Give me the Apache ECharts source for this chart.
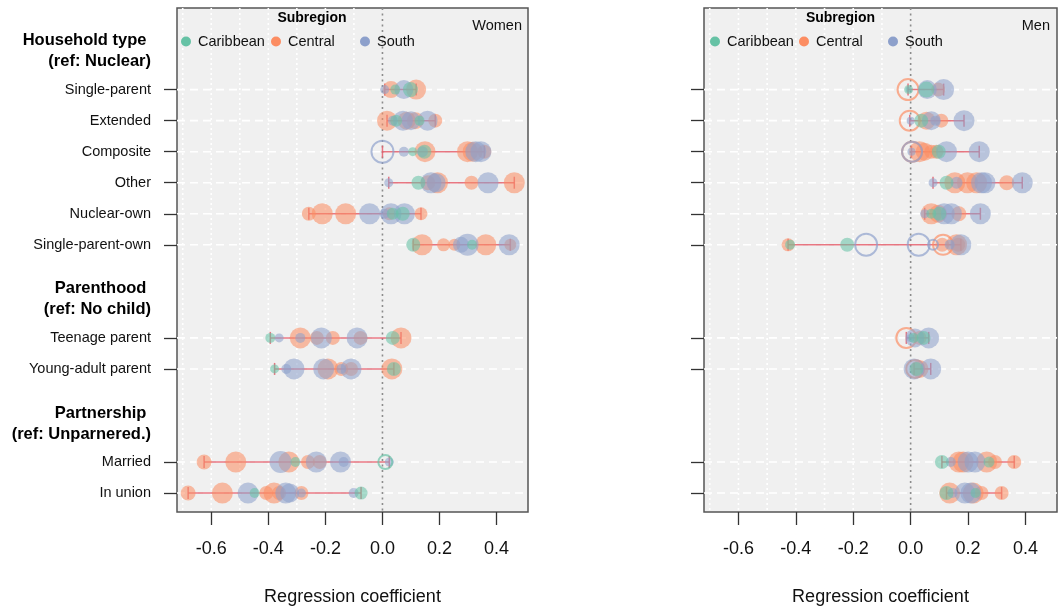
<!DOCTYPE html>
<html><head><meta charset="utf-8">
<script src="https://cdn.jsdelivr.net/npm/echarts@6/dist/echarts.min.js"></script>
<style>html,body{margin:0;padding:0;background:#fff}#c{width:1058px;height:611px}</style>
</head><body><div id="c"></div>
<script>
// ---------- data ----------
const rowLabels = ['Single-parent','Extended','Composite','Other','Nuclear-own','Single-parent-own','Teenage parent','Young-adult parent','Married','In union'];
const rowPositions = [0,1,2,3,4,5,8,9,12,13];
const groupHeaders = [['Household type ','(ref: Nuclear)'],['Parenthood ','(ref: No child)'],['Partnership ','(ref: Unparnered.)']];
const headerPositions = [-1.245, 6.75, 10.77];
const xTicks = [-0.6,-0.4,-0.2,0,0.2,0.4];
const xGridValues = [-0.7,-0.6,-0.5,-0.4,-0.3,-0.2,-0.1];
const subregions = ['Caribbean','Central','South'];
const panelTitles = ['Women','Men'];
// each point: [coefficient, row position, symbol diameter, filled(1)/hollow(0)]
const womenCaribbean = [[0.045,0,10,1],[0.098,0,15,1],[0.048,1,12,1],[0.13,1,10,1],[0.106,2,9,1],[0.147,2,14,1],[0.126,3,14,1],[0.036,4,12,1],[0.071,4,14,1],[0.108,5,14,1],[0.314,5,10,1],[-0.393,8,10,1],[0.036,8,14,1],[-0.378,9,9,1],[0.04,9,14,1],[-0.305,12,10,1],[0.01,12,14,0],[-0.448,13,10,1],[-0.075,13,13,1]];
const womenCentral = [[0.03,0,17,1],[0.118,0,20,1],[0.016,1,20,1],[0.085,1,18,1],[0.115,1,17,1],[0.185,1,14,1],[0.149,2,21,1],[0.298,2,21,1],[0.316,2,20,1],[0.357,2,14,1],[0.159,3,15,1],[0.193,3,21,1],[0.312,3,14,1],[0.462,3,21,1],[-0.258,4,14,1],[-0.211,4,21,1],[-0.129,4,21,1],[0.024,4,13,1],[0.135,4,13,1],[0.139,5,21,1],[0.214,5,13,1],[0.252,5,12,1],[0.362,5,21,1],[0.448,5,12,1],[-0.288,8,21,1],[-0.23,8,14,1],[-0.174,8,14,1],[-0.077,8,14,1],[0.065,8,21,1],[-0.191,9,21,1],[-0.144,9,14,1],[-0.11,9,14,1],[0.033,9,21,1],[-0.625,12,15,1],[-0.514,12,21,1],[-0.328,12,21,1],[-0.261,12,14,1],[-0.22,12,14,1],[-0.681,13,15,1],[-0.561,13,21,1],[-0.407,13,14,1],[-0.38,13,21,1],[-0.362,13,14,1],[-0.284,13,14,1]];
const womenSouth = [[0.008,0,9,1],[0.075,0,19,1],[0.037,1,10,1],[0.072,1,20,1],[0.1,1,19,1],[0.158,1,20,1],[0.0,2,22,0],[0.075,2,10,1],[0.14,2,11,1],[0.327,2,21,1],[0.345,2,21,1],[0.022,3,9,1],[0.17,3,21,1],[0.188,3,19,1],[0.37,3,21,1],[-0.045,4,21,1],[0.007,4,10,1],[0.03,4,21,1],[0.077,4,21,1],[0.275,5,16,1],[0.298,5,22,1],[0.444,5,21,1],[-0.362,8,9,1],[-0.288,8,10,1],[-0.214,8,21,1],[-0.089,8,21,1],[-0.337,9,10,1],[-0.31,9,21,1],[-0.206,9,21,1],[-0.144,9,10,1],[-0.11,9,21,1],[-0.357,12,22,1],[-0.232,12,21,1],[-0.147,12,21,1],[-0.136,12,10,1],[0.024,12,9,1],[-0.471,13,21,1],[-0.339,13,21,1],[-0.325,13,19,1],[-0.284,13,9,1],[-0.101,13,10,1]];
const menCaribbean = [[-0.007,0,9,1],[0.055,0,16,1],[0.037,1,14,1],[0.098,2,14,1],[0.125,3,14,1],[0.072,4,10,1],[0.1,4,14,1],[-0.42,5,10,1],[-0.221,5,14,1],[0.01,8,10,1],[0.045,8,14,1],[0.02,9,14,1],[0.109,12,14,1],[0.273,12,11,1],[0.125,13,14,1],[0.226,13,10,1]];
const menCentral = [[-0.009,0,21,0],[0.096,0,14,1],[-0.003,1,20,0],[0.055,1,18,1],[0.107,1,14,1],[0.005,2,20,0],[0.031,2,21,1],[0.049,2,18,1],[0.072,2,14,1],[0.09,2,14,1],[0.154,3,21,1],[0.198,3,21,1],[0.23,3,21,1],[0.335,3,15,1],[0.072,4,21,1],[0.096,4,18,1],[0.168,4,15,1],[-0.427,5,13,1],[0.113,5,20,0],[0.11,5,14,1],[0.16,5,21,1],[0.166,5,14,1],[-0.015,8,20,0],[0.031,8,14,1],[0.016,9,18,0],[0.031,9,18,1],[0.168,12,21,1],[0.183,12,21,1],[0.265,12,21,1],[0.294,12,14,1],[0.361,12,14,1],[0.136,13,21,1],[0.218,13,21,1],[0.247,13,14,1],[0.317,13,14,1]];
const menSouth = [[-0.007,0,6,1],[0.058,0,19,1],[0.115,0,21,1],[0.0,1,8,1],[0.072,1,19,1],[0.086,1,10,1],[0.186,1,21,1],[0.005,2,20,0],[0.003,2,8,1],[0.125,2,21,1],[0.239,2,21,1],[0.078,3,9,1],[0.16,3,12,1],[0.247,3,21,1],[0.259,3,21,1],[0.389,3,21,1],[0.049,4,9,1],[0.117,4,21,1],[0.142,4,21,1],[0.243,4,21,1],[-0.155,5,22,0],[0.028,5,22,0],[0.078,5,10,0],[0.136,5,10,1],[0.175,5,21,1],[0.0,8,8,1],[0.015,8,19,1],[0.063,8,21,1],[0.012,9,21,1],[0.07,9,21,1],[0.14,12,10,1],[0.2,12,21,1],[0.224,12,21,1],[0.146,13,10,1],[0.189,13,21,1],[0.21,13,21,1]];

// ---------- styling ----------
const FONT = "'Liberation Sans', Arial, sans-serif";
const colors = {Caribbean:'102,194,165', Central:'252,141,98', South:'141,160,203'};
const panels = [
  {data:{Caribbean:womenCaribbean, Central:womenCentral, South:womenSouth}},
  {data:{Caribbean:menCaribbean, Central:menCentral, South:menSouth}}
];

function labelFor(v){
  for (let i=0;i<rowPositions.length;i++) if (Math.abs(v-rowPositions[i])<1e-6) return '{n|'+rowLabels[i]+'}';
  for (let i=0;i<headerPositions.length;i++) if (Math.abs(v-headerPositions[i])<1e-6) return '{h|'+groupHeaders[i][0]+'}\n{h|'+groupHeaders[i][1]+'}';
  return '';
}

const grids = [
  {left:177, top:8, width:351, height:506},
  {left:704, top:8, width:353, height:506}
].map(g => Object.assign(g, {show:true, backgroundColor:'#f0f0f0', borderColor:'#555', borderWidth:1.5, containLabel:false}));

const xAxes = [0,1].map(i => ({
  type:'value', gridIndex:i, min:-0.72, max:0.51, position:'bottom',
  axisLine:{show:false, onZero:false}, splitLine:{show:false},
  axisTick:{show:true, customValues:xTicks, length:13, lineStyle:{color:'#333', width:1.3}},
  axisLabel:{customValues:xTicks, formatter:v=>v.toFixed(1), fontSize:18, color:'#111', margin:28, fontFamily:FONT},
  name:'Regression coefficient', nameLocation:'middle', nameGap:76,
  nameTextStyle:{fontSize:18, color:'#111', fontFamily:FONT}
}));
const yAxes = [0,1].map(i => ({
  type:'value', gridIndex:i, inverse:true, min:-2.63, max:13.61, position:'left',
  axisLine:{show:false, onZero:false}, splitLine:{show:false},
  axisTick:{show:true, customValues:rowPositions, length:13, lineStyle:{color:'#333', width:1.3}},
  axisLabel:{show:i===0, customValues:rowPositions.concat(headerPositions), formatter:labelFor, margin:26,
    fontFamily:FONT, rich:{n:{fontSize:14.5, color:'#111', fontFamily:FONT}, h:{fontSize:16.5, fontWeight:'bold', color:'#000', lineHeight:21, fontFamily:FONT}}}
}));

function vLine(dash, color, width){
  return function(params, api){
    const cs = params.coordSys;
    const x = api.coord([api.value(0), api.value(1)])[0];
    return {type:'line', shape:{x1:x, y1:cs.y, x2:x, y2:cs.y+cs.height}, style:{stroke:color, lineWidth:width, lineDash:dash}, silent:true};
  };
}
function hLine(params, api){
  const cs = params.coordSys;
  const y = api.coord([api.value(0), api.value(1)])[1];
  return {type:'line', shape:{x1:cs.x, y1:y, x2:cs.x+cs.width, y2:y}, style:{stroke:'#ffffff', lineWidth:1.6, lineDash:[8,5]}, silent:true};
}
function rangeRender(params, api){
  const r = api.value(1);
  const p1 = api.coord([api.value(0), r]);
  const p2 = api.coord([api.value(2), r]);
  const st = {stroke:'rgba(228,95,108,0.85)', lineWidth:1.5};
  return {type:'group', children:[
    {type:'line', shape:{x1:p1[0], y1:p1[1], x2:p2[0], y2:p2[1]}, style:st},
    {type:'line', shape:{x1:p1[0], y1:p1[1]-6, x2:p1[0], y2:p1[1]+6}, style:st},
    {type:'line', shape:{x1:p2[0], y1:p2[1]-6, x2:p2[0], y2:p2[1]+6}, style:st}
  ]};
}

const series = [];
panels.forEach((p, i) => {
  series.push({type:'custom', xAxisIndex:i, yAxisIndex:i, z:1, silent:true, renderItem:vLine([2,3], '#ffffff', 1.6), data:xGridValues.map(v=>[v,0])});
  series.push({type:'custom', xAxisIndex:i, yAxisIndex:i, z:1, silent:true, renderItem:hLine, data:rowPositions.map(r=>[0,r])});
  series.push({type:'custom', xAxisIndex:i, yAxisIndex:i, z:1, silent:true, renderItem:vLine([2,3.5], '#8c8c8c', 1.6), data:[[0,0]]});
  const ranges = rowPositions.map(r => {
    const vals = [];
    subregions.forEach(s => p.data[s].forEach(d => { if (d[1]===r) vals.push(d[0]); }));
    return [Math.min(...vals), r, Math.max(...vals)];
  });
  series.push({type:'custom', xAxisIndex:i, yAxisIndex:i, z:2, silent:true, renderItem:rangeRender, data:ranges});
  ['Central','South','Caribbean'].forEach(s => {
    const c = colors[s];
    series.push({
      type:'scatter', name:s, xAxisIndex:i, yAxisIndex:i, z:3, silent:true,
      symbol:'circle', symbolSize:(val)=>val[2],
      itemStyle:{color:'rgba('+c+',0.7)'},
      data:p.data[s].map(d => d[3] ? {value:[d[0],d[1],d[2]]} :
        {value:[d[0],d[1],d[2]], itemStyle:{color:'rgba(0,0,0,0)', borderColor:'rgba('+c+',0.85)', borderWidth:2}})
    });
  });
});

const legendLefts = [[181,271,360],[710,799,888]];
const legends = [];
legendLefts.forEach(arr => arr.forEach((lx, k) => {
  const s = subregions[k];
  legends.push({data:[s], left:lx, top:34, padding:0, z:50, icon:'circle', itemWidth:14, itemHeight:10, selectedMode:false,
    itemStyle:{color:'rgb('+colors[s]+')', opacity:1, borderWidth:0},
    textStyle:{fontSize:14.5, color:'#111', fontFamily:FONT}});
}));

const graphics = [];
[312, 840.5].forEach(cx => graphics.push({type:'text', x:cx, y:18, z:100, silent:true,
  style:{text:'Subregion', textAlign:'center', textVerticalAlign:'middle', font:'bold 14px '+FONT, fill:'#000'}}));
[[522,'Women'],[1050,'Men']].forEach(([rx, t]) => graphics.push({type:'text', x:rx, y:26, z:100, silent:true,
  style:{text:t, textAlign:'right', textVerticalAlign:'middle', font:'14.5px '+FONT, fill:'#111'}}));

const chart = echarts.init(document.getElementById('c'), null, {renderer:'canvas'});
chart.setOption({
  animation:false,
  backgroundColor:'#ffffff',
  textStyle:{fontFamily:FONT},
  grid:grids, xAxis:xAxes, yAxis:yAxes,
  legend:legends, series:series, graphic:graphics
});
</script></body></html>
